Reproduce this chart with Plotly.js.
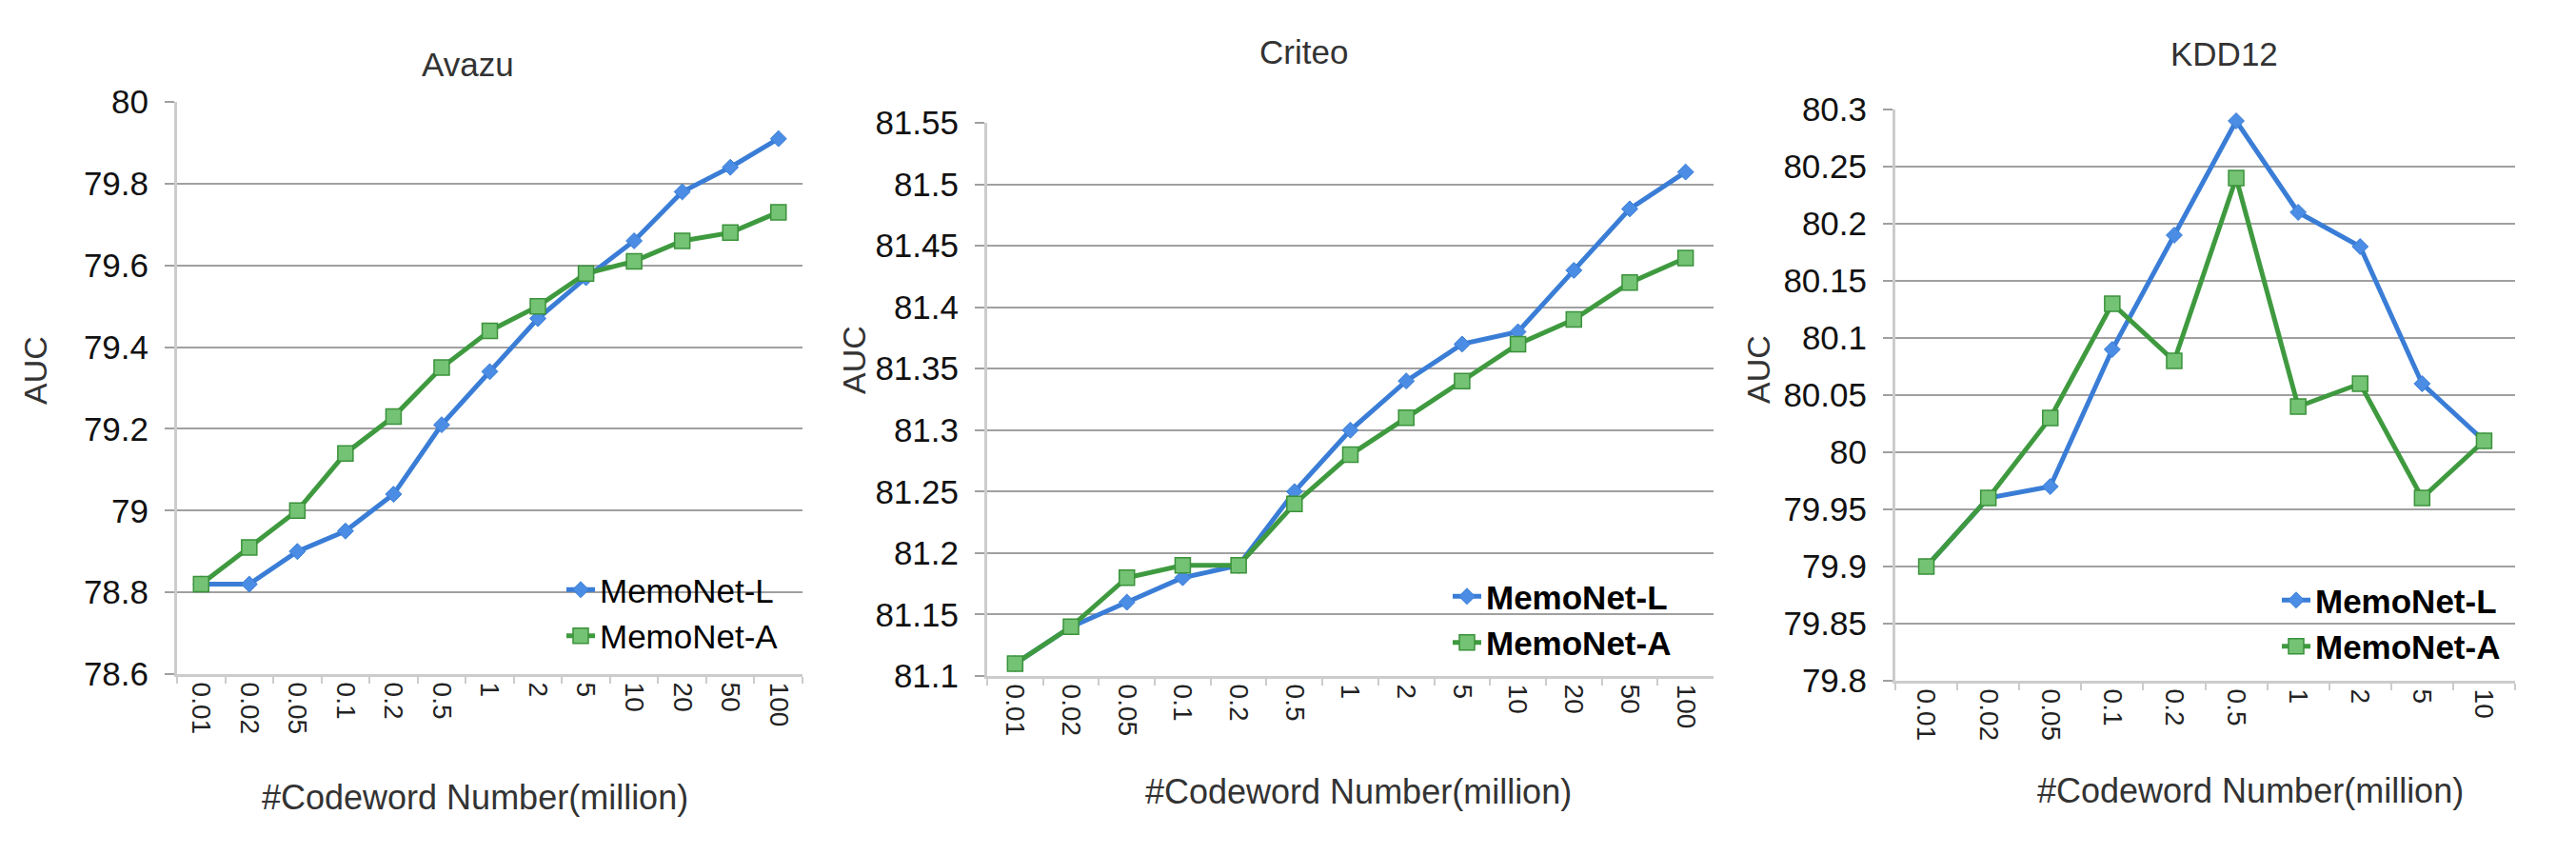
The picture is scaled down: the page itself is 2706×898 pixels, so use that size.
<!DOCTYPE html>
<html>
<head>
<meta charset="utf-8">
<script src="https://cdn.plot.ly/plotly-3.0.1.min.js"></script>
<style>
  html, body { margin: 0; padding: 0; background: #fff; }
  #chart { width: 2706px; height: 898px; }
</style>
</head>
<body>
<div id="chart"></div>
<script>
// ---- data ----
const AVAZU_X = ['0.01', '0.02', '0.05', '0.1', '0.2', '0.5', '1', '2', '5', '10', '20', '50', '100'];
const AVAZU_L = [78.82, 78.82, 78.90, 78.95, 79.04, 79.21, 79.34, 79.47, 79.57, 79.66, 79.78, 79.84, 79.91];
const AVAZU_A = [78.82, 78.91, 79.00, 79.14, 79.23, 79.35, 79.44, 79.50, 79.58, 79.61, 79.66, 79.68, 79.73];

const CRITEO_X = ['0.01', '0.02', '0.05', '0.1', '0.2', '0.5', '1', '2', '5', '10', '20', '50', '100'];
const CRITEO_L = [81.11, 81.14, 81.16, 81.18, 81.19, 81.25, 81.30, 81.34, 81.37, 81.38, 81.43, 81.48, 81.51];
const CRITEO_A = [81.11, 81.14, 81.18, 81.19, 81.19, 81.24, 81.28, 81.31, 81.34, 81.37, 81.39, 81.42, 81.44];

const KDD_X = ['0.01', '0.02', '0.05', '0.1', '0.2', '0.5', '1', '2', '5', '10'];
const KDD_L = [79.90, 79.96, 79.97, 80.09, 80.19, 80.29, 80.21, 80.18, 80.06, 80.01];
const KDD_A = [79.90, 79.96, 80.03, 80.13, 80.08, 80.24, 80.04, 80.06, 79.96, 80.01];

const PANEL_TITLES = ['Avazu', 'Criteo', 'KDD12'];
const SERIES_NAMES = ['MemoNet-L', 'MemoNet-A'];
const Y_RANGES = [[78.6, 80], [81.1, 81.55], [79.8, 80.3]];
const Y_DTICKS = [0.2, 0.05, 0.05];
const X_TITLE = '#Codeword Number(million)';
const Y_TITLE = 'AUC';

// ---- styling ----
const W = 2706, H = 898;
const px = v => v / W;          // pixel -> paper x
const py = v => 1 - v / H;      // pixel -> paper y

const BLUE = '#3a7dd6';
const GREEN = '#3f9a3f';
const FONT = 'Liberation Sans, Arial, sans-serif';

// plot boxes in pixels: [left, right, top, bottom]
const BOXES = [
    [186, 843, 107, 708],
    [1037, 1800, 129, 710],
    [1991, 2642, 115, 715]
];
const TITLE_POS = [[491, 67], [1370, 54], [2336, 56]];
const YLAB_POS = [[37, 389], [897, 378], [1847, 388]];
const XLAB_POS = [[499, 837], [1427, 831], [2364, 830]];
const LEGEND_POS = [[590, 590], [1521, 597], [2392, 601]];
const LEGEND_BOLD = [false, true, true];

const panels = [
    { x: AVAZU_X, l: AVAZU_L, a: AVAZU_A },
    { x: CRITEO_X, l: CRITEO_L, a: CRITEO_A },
    { x: KDD_X, l: KDD_L, a: KDD_A }
];

const traces = [];
const layout = {
    width: W, height: H,
    margin: { t: 0, b: 0, l: 0, r: 0 },
    paper_bgcolor: '#fff',
    plot_bgcolor: '#fff',
    font: { family: FONT, color: '#111' },
    showlegend: true,
    annotations: []
};

panels.forEach((p, i) => {
    const n = i + 1;
    const xa = n === 1 ? 'x' : 'x' + n;
    const ya = n === 1 ? 'y' : 'y' + n;
    const lg = n === 1 ? 'legend' : 'legend' + n;
    const box = BOXES[i];

    traces.push({
        type: 'scatter', mode: 'lines+markers',
        x: p.x, y: p.l, xaxis: xa, yaxis: ya, legend: lg,
        name: SERIES_NAMES[0],
        line: { color: BLUE, width: 5 },
        marker: { symbol: 'diamond', size: 13, color: '#4b8de4', line: { color: BLUE, width: 1 } },
        hoverinfo: 'skip'
    });
    traces.push({
        type: 'scatter', mode: 'lines+markers',
        x: p.x, y: p.a, xaxis: xa, yaxis: ya, legend: lg,
        name: SERIES_NAMES[1],
        line: { color: GREEN, width: 5 },
        marker: { symbol: 'square', size: 16, color: '#74c274', line: { color: '#3a923a', width: 1.5 } },
        hoverinfo: 'skip'
    });

    layout[n === 1 ? 'xaxis' : 'xaxis' + n] = {
        domain: [px(box[0]), px(box[1])],
        anchor: ya,
        type: 'category',
        range: [-0.5, p.x.length - 0.5],
        tickson: 'boundaries',
        ticks: 'outside', ticklen: 7, tickwidth: 2, tickcolor: '#cccccc',
        tickangle: 90,
        tickfont: { family: FONT, size: 28, color: '#222' },
        showline: true, linecolor: '#cccccc', linewidth: 3,
        showgrid: false, zeroline: false, fixedrange: true
    };
    layout[n === 1 ? 'yaxis' : 'yaxis' + n] = {
        domain: [py(box[3]), py(box[2])],
        anchor: xa,
        range: Y_RANGES[i],
        dtick: Y_DTICKS[i],
        tick0: Y_RANGES[i][0],
        ticks: 'outside', ticklen: 10, tickwidth: 2, tickcolor: '#a0a0a0',
        tickfont: { family: FONT, size: 35, color: '#111' },
        ticklabelstandoff: 10,
        showline: true, linecolor: '#cccccc', linewidth: 3,
        showgrid: true, gridcolor: '#a0a0a0', gridwidth: 2,
        zeroline: false, fixedrange: true
    };

    layout[lg] = {
        x: px(LEGEND_POS[i][0]), y: py(LEGEND_POS[i][1]),
        xanchor: 'left', yanchor: 'top',
        bgcolor: 'rgba(0,0,0,0)', borderwidth: 0,
        itemwidth: 30, tracegroupgap: 0,
        font: { family: FONT, size: 35, color: '#000', weight: LEGEND_BOLD[i] ? 'bold' : 'normal' }
    };

    layout.annotations.push({
        xref: 'paper', yref: 'paper',
        x: px(TITLE_POS[i][0]), y: py(TITLE_POS[i][1]),
        xanchor: 'center', yanchor: 'middle',
        text: PANEL_TITLES[i], showarrow: false,
        font: { family: FONT, size: 35, color: '#333' }
    });
    layout.annotations.push({
        xref: 'paper', yref: 'paper',
        x: px(YLAB_POS[i][0]), y: py(YLAB_POS[i][1]),
        xanchor: 'center', yanchor: 'middle',
        text: Y_TITLE, textangle: -90, showarrow: false,
        font: { family: FONT, size: 34, color: '#333' }
    });
    layout.annotations.push({
        xref: 'paper', yref: 'paper',
        x: px(XLAB_POS[i][0]), y: py(XLAB_POS[i][1]),
        xanchor: 'center', yanchor: 'middle',
        text: X_TITLE, showarrow: false,
        font: { family: FONT, size: 36, color: '#333' }
    });
});

Plotly.newPlot('chart', traces, layout, { staticPlot: true, displayModeBar: false });
</script>
</body>
</html>
